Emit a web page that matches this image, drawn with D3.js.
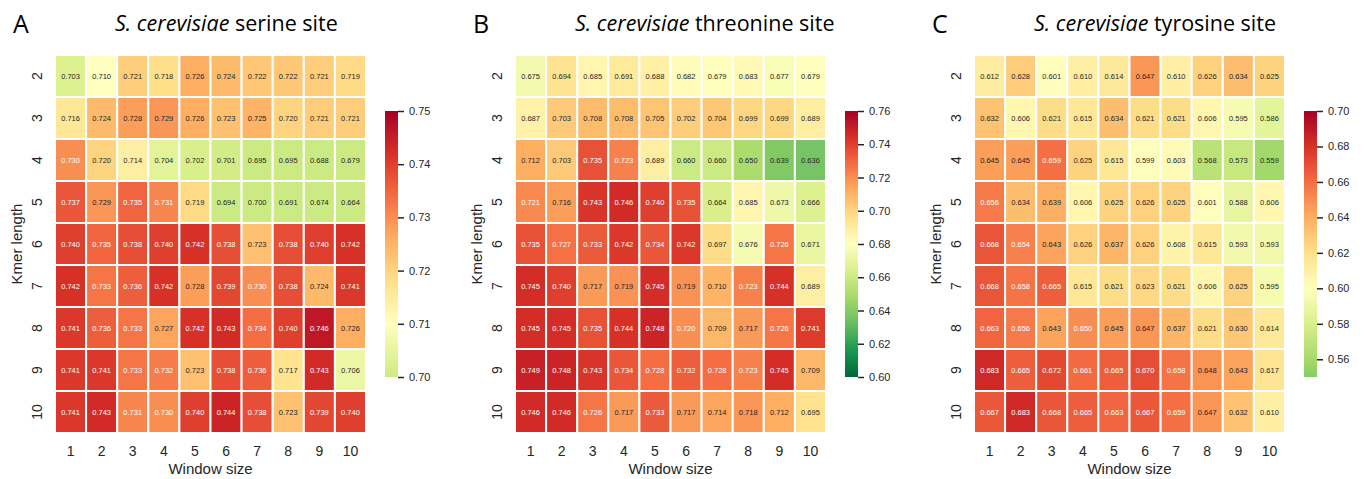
<!DOCTYPE html>
<html>
<head>
<meta charset="utf-8">
<script src="https://cdn.jsdelivr.net/npm/d3@7"></script>
<style>
  body { margin: 0; background: #fff; }
  svg text { font-family: "Liberation Sans", Arial, sans-serif; fill: #262626; }
  .title, .letter { font-family: "Open Sans", "Noto Sans", sans-serif; fill: #000; }
</style>
</head>
<body>
<svg id="chart"></svg>
<script>
/* DATA */
const windowSizes = [1, 2, 3, 4, 5, 6, 7, 8, 9, 10];
const kmerLengths = [2, 3, 4, 5, 6, 7, 8, 9, 10];

// rows = kmer length 2..10, columns = window size 1..10
const serineValues = [
  [0.703, 0.710, 0.721, 0.718, 0.726, 0.724, 0.722, 0.722, 0.721, 0.719],
  [0.716, 0.724, 0.728, 0.729, 0.726, 0.723, 0.725, 0.720, 0.721, 0.721],
  [0.730, 0.720, 0.714, 0.704, 0.702, 0.701, 0.695, 0.695, 0.688, 0.679],
  [0.737, 0.729, 0.735, 0.731, 0.719, 0.694, 0.700, 0.691, 0.674, 0.664],
  [0.740, 0.735, 0.738, 0.740, 0.742, 0.738, 0.723, 0.738, 0.740, 0.742],
  [0.742, 0.733, 0.736, 0.742, 0.728, 0.739, 0.730, 0.738, 0.724, 0.741],
  [0.741, 0.736, 0.733, 0.727, 0.742, 0.743, 0.734, 0.740, 0.746, 0.726],
  [0.741, 0.741, 0.733, 0.732, 0.723, 0.738, 0.736, 0.717, 0.743, 0.706],
  [0.741, 0.743, 0.731, 0.730, 0.740, 0.744, 0.738, 0.723, 0.739, 0.740]
];
const threonineValues = [
  [0.675, 0.694, 0.685, 0.691, 0.688, 0.682, 0.679, 0.683, 0.677, 0.679],
  [0.687, 0.703, 0.708, 0.708, 0.705, 0.702, 0.704, 0.699, 0.699, 0.689],
  [0.712, 0.703, 0.735, 0.723, 0.689, 0.660, 0.660, 0.650, 0.639, 0.636],
  [0.721, 0.716, 0.743, 0.746, 0.740, 0.735, 0.664, 0.685, 0.673, 0.666],
  [0.735, 0.727, 0.733, 0.742, 0.734, 0.742, 0.697, 0.676, 0.726, 0.671],
  [0.745, 0.740, 0.717, 0.719, 0.745, 0.719, 0.710, 0.723, 0.744, 0.689],
  [0.745, 0.745, 0.735, 0.744, 0.748, 0.720, 0.709, 0.717, 0.726, 0.741],
  [0.749, 0.748, 0.743, 0.734, 0.728, 0.732, 0.728, 0.723, 0.745, 0.709],
  [0.746, 0.746, 0.726, 0.717, 0.733, 0.717, 0.714, 0.718, 0.712, 0.695]
];
const tyrosineValues = [
  [0.612, 0.628, 0.601, 0.610, 0.614, 0.647, 0.610, 0.626, 0.634, 0.625],
  [0.632, 0.606, 0.621, 0.615, 0.634, 0.621, 0.621, 0.606, 0.595, 0.586],
  [0.645, 0.645, 0.659, 0.625, 0.615, 0.599, 0.603, 0.568, 0.573, 0.559],
  [0.656, 0.634, 0.639, 0.606, 0.625, 0.626, 0.625, 0.601, 0.588, 0.606],
  [0.668, 0.654, 0.643, 0.626, 0.637, 0.626, 0.608, 0.615, 0.593, 0.593],
  [0.668, 0.658, 0.665, 0.615, 0.621, 0.623, 0.621, 0.606, 0.625, 0.595],
  [0.663, 0.656, 0.643, 0.650, 0.645, 0.647, 0.637, 0.621, 0.630, 0.614],
  [0.683, 0.665, 0.672, 0.661, 0.665, 0.670, 0.658, 0.648, 0.643, 0.617],
  [0.667, 0.683, 0.668, 0.665, 0.663, 0.667, 0.659, 0.647, 0.632, 0.610]
];

const serineTicks = [0.70, 0.71, 0.72, 0.73, 0.74, 0.75];
const threonineTicks = [0.60, 0.62, 0.64, 0.66, 0.68, 0.70, 0.72, 0.74, 0.76];
const tyrosineTicks = [0.56, 0.58, 0.60, 0.62, 0.64, 0.66, 0.68, 0.70];

/* CONSTANTS AND GLOBALS */
const width = 1367, height = 479;
const top0 = 55, mapW = 311, mapH = 378;
const cbar = {dx: 330, w: 13, top: 111, bottom: 377};

const panels = [
  {letter: "A", site: "serine", values: serineValues, ticks: serineTicks, vmin: 0.70, vmax: 0.75, center: 0.71, left: 55},
  {letter: "B", site: "threonine", values: threonineValues, ticks: threonineTicks, vmin: 0.60, vmax: 0.76, center: 0.68, left: 515},
  {letter: "C", site: "tyrosine", values: tyrosineValues, ticks: tyrosineTicks, vmin: 0.55, vmax: 0.70, center: 0.60, left: 974}
];

// matplotlib RdYlGn_r: linear between the 11 brewer colours
const brewer = d3.schemeRdYlGn[11].slice().reverse();
const cmap = d3.scaleLinear()
  .domain(d3.range(11).map(i => i / 10))
  .range(brewer)
  .interpolate(d3.interpolateRgb)
  .clamp(true);

// seaborn-style text colour choice
function luminance(c) {
  const rgb = d3.rgb(c);
  const lin = [rgb.r, rgb.g, rgb.b].map(v => {
    v = v / 255;
    return v <= 0.03928 ? v / 12.92 : Math.pow((v + 0.055) / 1.055, 2.4);
  });
  return 0.2126 * lin[0] + 0.7152 * lin[1] + 0.0722 * lin[2];
}

const svg = d3.select("#chart")
  .attr("width", width)
  .attr("height", height);

panels.forEach(p => {
  // seaborn "center": colormap recentred, then clipped to [vmin, vmax]
  const vrange = Math.max(p.vmax - p.center, p.center - p.vmin);
  const norm = d3.scaleLinear()
    .domain([p.center - vrange, p.center + vrange])
    .range([0, 1]);
  const color = v => cmap(norm(Math.max(p.vmin, Math.min(p.vmax, v))));

  const cells = [];
  p.values.forEach((row, i) => row.forEach((v, j) => {
    cells.push({kmer: kmerLengths[i], win: windowSizes[j], value: v});
  }));

  /* SCALES */
  const xScale = d3.scaleBand().domain(windowSizes).range([0, mapW]);
  const yScale = d3.scaleBand().domain(kmerLengths).range([0, mapH]);

  const g = svg.append("g")
    .attr("transform", `translate(${p.left},${top0})`);

  g.selectAll("rect.cell")
    .data(cells)
    .join("rect")
      .attr("class", "cell")
      .attr("x", d => xScale(d.win))
      .attr("y", d => yScale(d.kmer))
      .attr("width", xScale.bandwidth())
      .attr("height", yScale.bandwidth())
      .attr("fill", d => color(d.value))
      .attr("stroke", "#fff")
      .attr("stroke-width", 2);

  g.selectAll("text.annot")
    .data(cells)
    .join("text")
      .attr("class", "annot")
      .attr("x", d => xScale(d.win) + xScale.bandwidth() / 2)
      .attr("y", d => yScale(d.kmer) + yScale.bandwidth() / 2)
      .attr("dy", "0.35em")
      .attr("text-anchor", "middle")
      .style("font-size", "7.5px")
      .style("fill", d => luminance(color(d.value)) > 0.408 ? "#262626" : "#fff")
      .text(d => d3.format(".3f")(d.value));

  /* AXES */
  const xAxis = g.append("g")
    .attr("transform", `translate(0,${mapH})`)
    .call(d3.axisBottom(xScale).tickSize(0).tickPadding(13));
  xAxis.select(".domain").remove();
  xAxis.selectAll("text").style("font-size", "14px");

  const yAxis = g.append("g")
    .call(d3.axisLeft(yScale).tickSize(0));
  yAxis.select(".domain").remove();
  yAxis.selectAll("text")
    .attr("transform", "rotate(-90)")
    .attr("x", 0)
    .attr("y", -18)
    .attr("dy", "0.35em")
    .attr("text-anchor", "middle")
    .style("font-size", "14px");

  g.append("text")
    .attr("x", mapW / 2)
    .attr("y", mapH + 41)
    .attr("text-anchor", "middle")
    .style("font-size", "15px")
    .text("Window size");

  g.append("text")
    .attr("transform", `translate(-38,${mapH / 2}) rotate(-90)`)
    .attr("dy", "0.35em")
    .attr("text-anchor", "middle")
    .style("font-size", "15px")
    .text("Kmer length");

  /* TITLES */
  g.append("text")
    .attr("class", "letter")
    .attr("x", -42)
    .attr("y", 33 - top0)
    .style("font-size", "25px")
    .text(p.letter);

  const title = g.append("text")
    .attr("class", "title")
    .attr("x", 60)
    .attr("y", 31 - top0)
    .style("font-size", "21.5px");
  title.append("tspan").style("font-style", "italic").text("S. cerevisiae");
  title.append("tspan").text(` ${p.site} site`);

  /* COLORBAR */
  const cbScale = d3.scaleLinear()
    .domain([p.vmin, p.vmax])
    .range([cbar.bottom - top0, cbar.top - top0]);

  const gradId = `grad-${p.letter}`;
  const grad = svg.append("defs").append("linearGradient")
    .attr("id", gradId)
    .attr("x1", 0).attr("y1", 1).attr("x2", 0).attr("y2", 0);
  d3.range(41).forEach(k => {
    const t = k / 40;
    grad.append("stop")
      .attr("offset", t)
      .attr("stop-color", color(p.vmin + t * (p.vmax - p.vmin)));
  });

  const cb = g.append("g").attr("transform", `translate(${cbar.dx},0)`);
  cb.append("rect")
    .attr("x", 0)
    .attr("y", cbScale(p.vmax))
    .attr("width", cbar.w)
    .attr("height", cbScale(p.vmin) - cbScale(p.vmax))
    .attr("fill", `url(#${gradId})`);

  const cbAxis = cb.append("g")
    .attr("transform", `translate(${cbar.w},0)`)
    .call(d3.axisRight(cbScale).tickValues(p.ticks).tickSize(6).tickPadding(5).tickFormat(d3.format(".2f")));
  cbAxis.select(".domain").remove();
  cbAxis.selectAll("line").attr("stroke", "#262626").attr("stroke-width", 1.5);
  cbAxis.selectAll("text").style("font-size", "11px");
});
</script>
</body>
</html>
